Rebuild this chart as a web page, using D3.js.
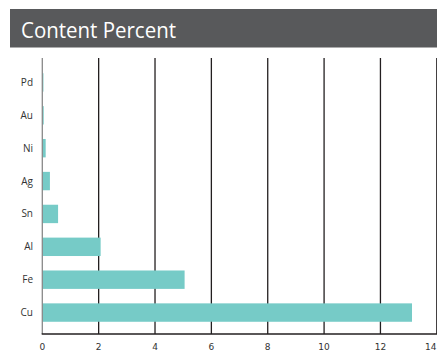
<!DOCTYPE html>
<html>
<head>
<meta charset="utf-8">
<script src="https://cdn.jsdelivr.net/npm/d3@7"></script>
<style>
  html, body { margin: 0; padding: 0; background: #fff; }
  svg { display: block; }
</style>
</head>
<body>
<svg id="chart" width="437" height="354"></svg>
<script>
// Metal content by element (percent)
const elements = ["Pd", "Au", "Ni", "Ag", "Sn", "Al", "Fe", "Cu"];
const contentPercent = [0.04, 0.05, 0.12, 0.27, 0.56, 2.07, 5.05, 13.12];
const xTicks = [0, 2, 4, 6, 8, 10, 12, 14];
const titleText = "Content Percent";

const svg = d3.select("#chart");
const W = 437;

// Title banner
svg.append("rect")
  .attr("x", 10).attr("y", 9)
  .attr("width", W - 10).attr("height", 38.5)
  .attr("fill", "#58595b");
svg.append("text")
  .attr("x", 21).attr("y", 37.8)
  .attr("fill", "#ffffff")
  .attr("font-family", "'Open Sans', sans-serif")
  .attr("font-size", 21.5)
  .attr("textLength", 155)
  .attr("lengthAdjust", "spacingAndGlyphs")
  .text(titleText);

const gridTop = 58, axisY = 334;
const x = d3.scaleLinear().domain([0, 14]).range([42.3, 436.8]);
const y = d3.scaleBand().domain(elements).range([66, 329]).paddingInner(0.44).paddingOuter(0.22);

// Vertical gridlines
svg.append("g").selectAll("line")
  .data(xTicks.slice(1))
  .join("line")
  .attr("x1", d => x(d)).attr("x2", d => x(d))
  .attr("y1", gridTop).attr("y2", axisY)
  .attr("stroke", "#231f20").attr("stroke-width", 1.3);

// Bars
svg.append("g").selectAll("rect")
  .data(elements.map((e, i) => ({ e, v: contentPercent[i] })))
  .join("rect")
  .attr("x", x(0))
  .attr("y", d => y(d.e))
  .attr("width", d => x(d.v) - x(0))
  .attr("height", y.bandwidth())
  .attr("fill", "#76cbc7");

// Left axis line
svg.append("line")
  .attr("x1", x(0)).attr("x2", x(0))
  .attr("y1", gridTop).attr("y2", axisY)
  .attr("stroke", "#888").attr("stroke-width", 1.3);

// Bottom axis line
svg.append("line")
  .attr("x1", x(0) - 0.6).attr("x2", W)
  .attr("y1", axisY).attr("y2", axisY)
  .attr("stroke", "#231f20").attr("stroke-width", 1.3);

// Category labels
svg.append("g").selectAll("text")
  .data(elements)
  .join("text")
  .attr("x", 33)
  .attr("y", d => y(d) + y.bandwidth() / 2)
  .attr("dy", "0.35em")
  .attr("text-anchor", "end")
  .attr("font-family", "'Open Sans', sans-serif")
  .attr("font-size", 10)
  .attr("fill", "#333")
  .text(d => d);

// X tick labels (the last one is kept inside the right edge)
const lastTick = xTicks[xTicks.length - 1];
svg.append("g").selectAll("text")
  .data(xTicks)
  .join("text")
  .attr("x", d => d === lastTick ? W - 0.5 : x(d))
  .attr("y", 350)
  .attr("text-anchor", d => d === lastTick ? "end" : "middle")
  .attr("font-family", "'DejaVu Sans', sans-serif")
  .attr("font-size", 9)
  .attr("fill", "#333")
  .text(d => d);
</script>
</body>
</html>
